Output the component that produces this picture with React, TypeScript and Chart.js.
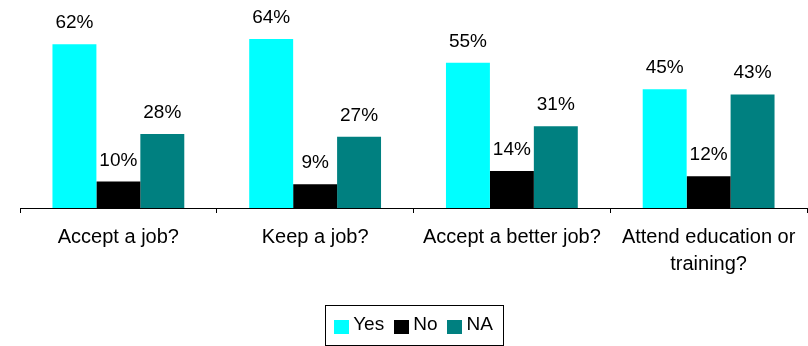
import React, { useEffect, useRef } from "react";
import { Chart, registerables } from "chart.js";

Chart.register(...registerables);

const categories: (string | string[])[] = [
  "Accept a job?",
  "Keep a job?",
  "Accept a better job?",
  ["Attend education or", "training?"],
];
const yesValues = [62, 64, 55, 45];
const noValues = [10, 9, 14, 12];
const naValues = [28, 27, 31, 43];
const seriesNames = ["Yes", "No", "NA"];
const seriesColors = ["#00FFFF", "#000000", "#008080"];

const FONT = "'Liberation Sans', Arial, sans-serif";

const dataLabelPlugin = {
  id: "dataLabels",
  afterDatasetsDraw(chart: any) {
    const ctx = chart.ctx;
    ctx.save();
    ctx.font = `19px ${FONT}`;
    ctx.fillStyle = "#000";
    ctx.textAlign = "center";
    ctx.textBaseline = "alphabetic";
    chart.data.datasets.forEach((ds: any, i: number) => {
      const meta = chart.getDatasetMeta(i);
      meta.data.forEach((el: any, j: number) => {
        ctx.fillText(`${ds.data[j]}%`, el.x, el.y - 16);
      });
    });
    ctx.restore();
  },
};

const boxLegendPlugin = {
  id: "boxLegend",
  afterDraw(chart: any) {
    const ctx = chart.ctx;
    const area = chart.chartArea;
    ctx.save();
    ctx.font = `19px ${FONT}`;
    const sq = 15;
    const gapText = 4;
    const gapItem = 10;
    const widths = chart.data.datasets.map((d: any) => ctx.measureText(d.label).width);
    let content = 0;
    widths.forEach((w: number, i: number) => {
      content += sq + gapText + w + (i < widths.length - 1 ? gapItem : 0);
    });
    const boxW = 178;
    const boxH = 40;
    const cx = (area.left + area.right) / 2;
    const bx = Math.round(cx - boxW / 2) + 0.5;
    const by = chart.height - boxH - 1 + 0.5;
    ctx.strokeStyle = "#000";
    ctx.lineWidth = 1;
    ctx.strokeRect(bx, by, boxW, boxH);
    let x = cx - content / 2;
    const top = Math.round(by);
    ctx.textBaseline = "alphabetic";
    ctx.textAlign = "left";
    chart.data.datasets.forEach((d: any, i: number) => {
      ctx.fillStyle = d.backgroundColor;
      ctx.fillRect(Math.round(x), top + 14, sq, 14);
      x += sq + gapText;
      ctx.fillStyle = "#000";
      ctx.fillText(d.label, x, top + 24);
      x += widths[i] + gapItem;
    });
    ctx.restore();
  },
};

export default function App() {
  const ref = useRef<HTMLCanvasElement>(null);
  useEffect(() => {
    if (!ref.current) return;
    const values = [yesValues, noValues, naValues];
    const chart = new Chart(ref.current, {
      type: "bar",
      data: {
        labels: categories,
        datasets: seriesNames.map((name, i) => ({
          label: name,
          data: values[i],
          backgroundColor: seriesColors[i],
          borderWidth: 0,
          categoryPercentage: 0.67,
          barPercentage: 1,
        })),
      },
      options: {
        responsive: false,
        animation: false,
        devicePixelRatio: 1,
        layout: { padding: { left: 20, right: 1, top: 10, bottom: 57 } },
        plugins: {
          legend: { display: false },
          tooltip: { enabled: false },
        },
        scales: {
          x: {
            offset: true,
            grid: {
              display: true,
              offset: true,
              drawOnChartArea: false,
              drawTicks: true,
              tickLength: 5,
              color: "#000",
              lineWidth: 1,
            },
            border: { display: true, color: "#000", width: 1 },
            ticks: {
              color: "#000",
              padding: 11,
              maxRotation: 0,
              autoSkip: false,
              font: { family: FONT, size: 20, lineHeight: 1.35 },
            },
          },
          y: {
            display: false,
            min: 0,
            max: 75,
          },
        },
      },
      plugins: [dataLabelPlugin, boxLegendPlugin],
    });
    return () => chart.destroy();
  }, []);
  return (
    <div style={{ position: "absolute", left: 0, top: 0, width: 808, height: 346, background: "#fff" }}>
      <canvas ref={ref} width={808} height={346} />
    </div>
  );
}
